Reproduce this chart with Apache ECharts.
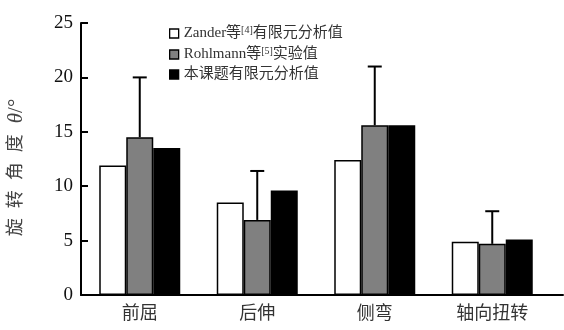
<!DOCTYPE html>
<html><head><meta charset="utf-8">
<script src="https://cdn.jsdelivr.net/npm/echarts@6/dist/echarts.min.js"></script>
<style>html,body{margin:0;padding:0;background:#fff}#c{width:564px;height:330px}</style>
</head><body><div id="c"></div>
<script>
const categories = ['前屈', '后伸', '侧弯', '轴向扭转'];
const zanderFEA = [11.9, 8.5, 12.4, 4.9];
const rohlmannExp = [14.5, 6.9, 15.6, 4.7];
const rohlmannErrTop = [20.0, 11.4, 21.0, 7.7];
const currentFEA = [13.5, 9.6, 15.6, 5.1];
const yTicks = [0, 5, 10, 15, 20, 25];
const seriesNames = ['Zander等[4]有限元分析值', 'Rohlmann等[5]实验值', '本课题有限元分析值'];
const yTitleCJK = '旋转角度';
const yTitleSym = ['θ', '/°'];

const serif = '"Liberation Serif","Times New Roman","Noto Sans CJK SC",serif';
const chart = echarts.init(document.getElementById('c'));
const barBase = {type: 'bar', barWidth: 27, barGap: '0%', xAxisIndex: 0, yAxisIndex: 0};
const yName = yTitleCJK.split('').map(ch => '{c|' + ch + '}').join('') +
  '{g| }{i|' + yTitleSym[0] + '}{s|' + yTitleSym[1] + '}';
chart.setOption({
  animation: false,
  grid: [
    {left: 81, right: 13, top: 23, bottom: 35, containLabel: false, outerBoundsMode: 'none'},
    {left: 81, right: 1, top: 23, bottom: 35, containLabel: false, outerBoundsMode: 'none'}
  ],
  legend: {
    orient: 'vertical', left: 164, top: 20, itemWidth: 9, itemHeight: 9, itemGap: 5,
    icon: 'rect',
    itemStyle: {borderColor: '#000', borderWidth: 1.3},
    textStyle: {fontFamily: serif, fontSize: 15, color: '#333',
      rich: {a: {fontFamily: serif, fontSize: 15, color: '#333'},
             s: {fontFamily: serif, fontSize: 10, color: '#333', verticalAlign: 'top', padding: [0, 0, 7, 0]}}},
    formatter: function (n) {
      const m = n.match(/^(.*?)(\[\d\])(.*)$/);
      if (m) return '{a|' + m[1] + '}{s|' + m[2] + '}{a|' + m[3] + '}';
      return '{a|' + n + '}';
    },
    data: seriesNames
  },
  xAxis: [
    {type: 'category', gridIndex: 0, data: categories,
     axisLine: {show: false}, axisTick: {show: false},
     axisLabel: {fontFamily: serif, fontSize: 18, color: '#333', margin: 10}},
    {type: 'value', gridIndex: 1, min: 0, max: 1,
     axisLine: {show: true, lineStyle: {color: '#000', width: 2}},
     axisTick: {show: false}, axisLabel: {show: false}, splitLine: {show: false}}
  ],
  yAxis: [
    {type: 'value', gridIndex: 0, min: yTicks[0], max: yTicks[yTicks.length - 1], interval: 5,
     axisLine: {show: true, lineStyle: {color: '#000', width: 2}},
     axisTick: {show: true, inside: true, length: 7, lineStyle: {color: '#000', width: 2}},
     axisLabel: {fontFamily: serif, fontSize: 19, color: '#111', margin: 8},
     splitLine: {show: false},
     name: yName, nameLocation: 'middle', nameRotate: 90, nameGap: 54,
     nameTextStyle: {fontFamily: serif, fontSize: 18, color: '#444', padding: [0, 22, 0, 0],
       rich: {c: {fontFamily: serif, fontSize: 18, color: '#444', width: 28, align: 'center'},
              g: {fontFamily: serif, fontSize: 18, width: 6},
              i: {fontFamily: serif, fontSize: 21, fontStyle: 'italic', color: '#444'},
              s: {fontFamily: serif, fontSize: 21, color: '#444'}}}},
    {type: 'value', gridIndex: 1, show: false, min: 0, max: 1}
  ],
  series: [
    Object.assign({}, barBase, {name: seriesNames[0], data: zanderFEA,
      itemStyle: {color: '#fff', borderColor: '#000', borderWidth: 1.5}}),
    Object.assign({}, barBase, {name: seriesNames[1], data: rohlmannExp,
      itemStyle: {color: '#808080', borderColor: '#000', borderWidth: 1.5}}),
    Object.assign({}, barBase, {name: seriesNames[2], data: currentFEA,
      itemStyle: {color: '#000', borderColor: '#000', borderWidth: 1.5}}),
    {type: 'custom', xAxisIndex: 0, yAxisIndex: 0, z: 1,
     data: categories.map((c, i) => [i, rohlmannExp[i], rohlmannErrTop[i]]),
     renderItem: function (params, api) {
       const lo = api.coord([api.value(0), api.value(1)]);
       const hi = api.coord([api.value(0), api.value(2)]);
       const half = 7;
       const st = {stroke: '#000', lineWidth: 2};
       return {type: 'group', children: [
         {type: 'line', shape: {x1: hi[0], y1: lo[1], x2: hi[0], y2: hi[1]}, style: st},
         {type: 'line', shape: {x1: hi[0] - half, y1: hi[1], x2: hi[0] + half, y2: hi[1]}, style: st}
       ]};
     }}
  ]
});
</script></body></html>
